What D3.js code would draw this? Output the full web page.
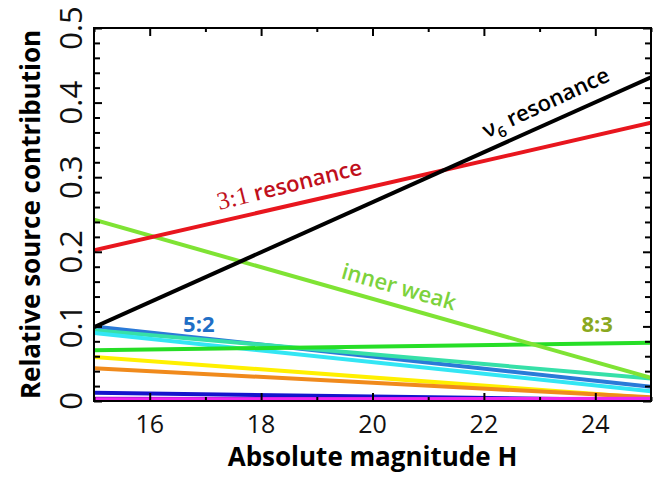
<!DOCTYPE html>
<meta charset="utf-8">
<html>
<head>
<script src="https://d3js.org/d3.v7.min.js"></script>
<style>
  body { margin: 0; background: #fff; }
  text { font-family: "Open Sans", sans-serif; }
</style>
</head>
<body>
<script>
// absolute magnitude range shown
var hDomain = [15, 25];
// each source is a straight line between H=15 and H=25
var sources = ["nu6", "3:1", "inner weak", "5:2", "teal", "cyan", "8:3", "yellow", "orange", "darkblue", "purple", "magenta"];
var startVals = [0.099, 0.202, 0.243, 0.100, 0.095, 0.091, 0.068, 0.059, 0.044, 0.011, 0.003, 0.002];
var endVals   = [0.434, 0.373, 0.031, 0.019, 0.030, 0.013, 0.078, 0.004, 0.005, 0.001, 0.002, 0.003];
var colors = ["#000000", "#e8161e", "#7fe334", "#2a7ad8", "#36e0a8", "#33e6f4", "#26de26", "#fff000", "#f08a1c", "#1414cc", "#8a10c8", "#ee26ee"];
var drawOrder = [3, 4, 5, 6, 7, 8, 9, 10, 11, 2, 1, 0];

var yMajor = [0, 0.1, 0.2, 0.3, 0.4, 0.5];
var xMajor = [16, 18, 20, 22, 24];

var margin = {top: 28, right: 10, bottom: 78, left: 94},
    width = 661 - margin.left - margin.right,
    height = 479 - margin.top - margin.bottom;

var svg = d3.select("body").append("svg")
    .attr("width", 661)
    .attr("height", 479);

var g = svg.append("g")
    .attr("transform", "translate(" + margin.left + "," + margin.top + ")");

var x = d3.scaleLinear().domain(hDomain).range([0, width]);
var y = d3.scaleLinear().domain([0, 0.5]).range([height, 0]);

//clip lines to the frame
svg.append("defs").append("clipPath").attr("id", "clip")
  .append("rect").attr("width", width).attr("height", height);

var line = d3.line()
    .x(function(d) { return x(d[0]); })
    .y(function(d) { return y(d[1]); });

var lines = g.append("g").attr("clip-path", "url(#clip)");
drawOrder.forEach(function(i) {
  lines.append("path")
    .datum([[hDomain[0], startVals[i]], [hDomain[1], endVals[i]]])
    .attr("d", line)
    .attr("fill", "none")
    .attr("stroke", colors[i])
    .attr("stroke-width", 4);
});

//ticks (inward, on all four sides)
var yMinor = d3.range(0, 0.501, 0.02).filter(function(v) {
  return !yMajor.some(function(m) { return Math.abs(m - v) < 1e-6; });
});
var xMinor = [15, 17, 19, 21, 23, 25];

function tickSide(axisFn, scale, values, size) {
  return axisFn(scale).tickValues(values).tickSize(size).tickFormat("");
}

var axes = [
  [d3.axisBottom, x, "translate(0," + height + ")"],
  [d3.axisTop, x, "translate(0,0)"],
  [d3.axisLeft, y, "translate(0,0)"],
  [d3.axisRight, y, "translate(" + width + ",0)"]
];
axes.forEach(function(a) {
  var isX = a[1] === x;
  var maj = g.append("g").attr("transform", a[2])
    .call(tickSide(a[0], a[1], isX ? xMajor : yMajor, -8));
  var mnr = g.append("g").attr("transform", a[2])
    .call(tickSide(a[0], a[1], isX ? xMinor : yMinor, isX ? -4 : -6));
  [maj, mnr].forEach(function(s) {
    s.select(".domain").remove();
    s.selectAll("line").attr("stroke", "#000").attr("stroke-width", 2);
  });
});

//frame
g.append("rect")
  .attr("width", width).attr("height", height)
  .attr("fill", "none").attr("stroke", "#000").attr("stroke-width", 2);

//tick labels
g.selectAll(".xlab").data(xMajor).enter().append("text")
  .attr("class", "xlab")
  .attr("x", function(d) { return x(d); })
  .attr("y", height + 32)
  .attr("text-anchor", "middle")
  .attr("font-size", 25)
  .attr("fill", "#111")
  .text(function(d) { return d; });

g.selectAll(".ylab").data(yMajor).enter().append("text")
  .attr("class", "ylab")
  .attr("transform", function(d) { return "translate(-12," + y(d) + ") rotate(-90)"; })
  .attr("text-anchor", "middle")
  .attr("font-size", 31)
  .attr("fill", "#111")
  .text(function(d) { return d === 0 ? "0" : d3.format(".1f")(d); });

//axis titles
svg.append("text")
  .attr("x", margin.left + width / 2)
  .attr("y", 466)
  .attr("text-anchor", "middle")
  .attr("font-size", 26)
  .attr("font-weight", "bold")
  .text("Absolute magnitude H");

svg.append("text")
  .attr("transform", "translate(40," + (margin.top + height / 2) + ") rotate(-90)")
  .attr("text-anchor", "middle")
  .attr("font-size", 26)
  .attr("font-weight", "bold")
  .text("Relative source contribution");

//line labels
function label(h, v, angle, color, size) {
  return g.append("text")
    .attr("transform", "translate(" + x(h) + "," + y(v) + ") rotate(" + angle + ")")
    .attr("fill", color)
    .attr("font-size", size)
    .attr("font-weight", 600);
}

var nu = label(22.05, 0.352, -25, "#000", 22);
nu.append("tspan").text("\u03bd");
nu.append("tspan").attr("font-size", 15).attr("dy", 6).text("6");
nu.append("tspan").attr("dy", -6).text(" resonance");

var r31 = label(17.25, 0.256, -14, "#c0101c", 22);
r31.append("tspan").attr("font-family", "Liberation Serif, serif").attr("font-weight", "normal").attr("font-size", 25).text("3:1");
r31.append("tspan").text(" resonance");

label(19.42, 0.165, 16, "#7cd23c", 22).text("inner weak");
label(16.6, 0.093, 0, "#1f6fc6", 22).attr("font-weight", "bold").text("5:2");
label(23.75, 0.093, 0, "#8aa820", 22).attr("font-weight", "bold").text("8:3");
</script>
</body>
</html>
